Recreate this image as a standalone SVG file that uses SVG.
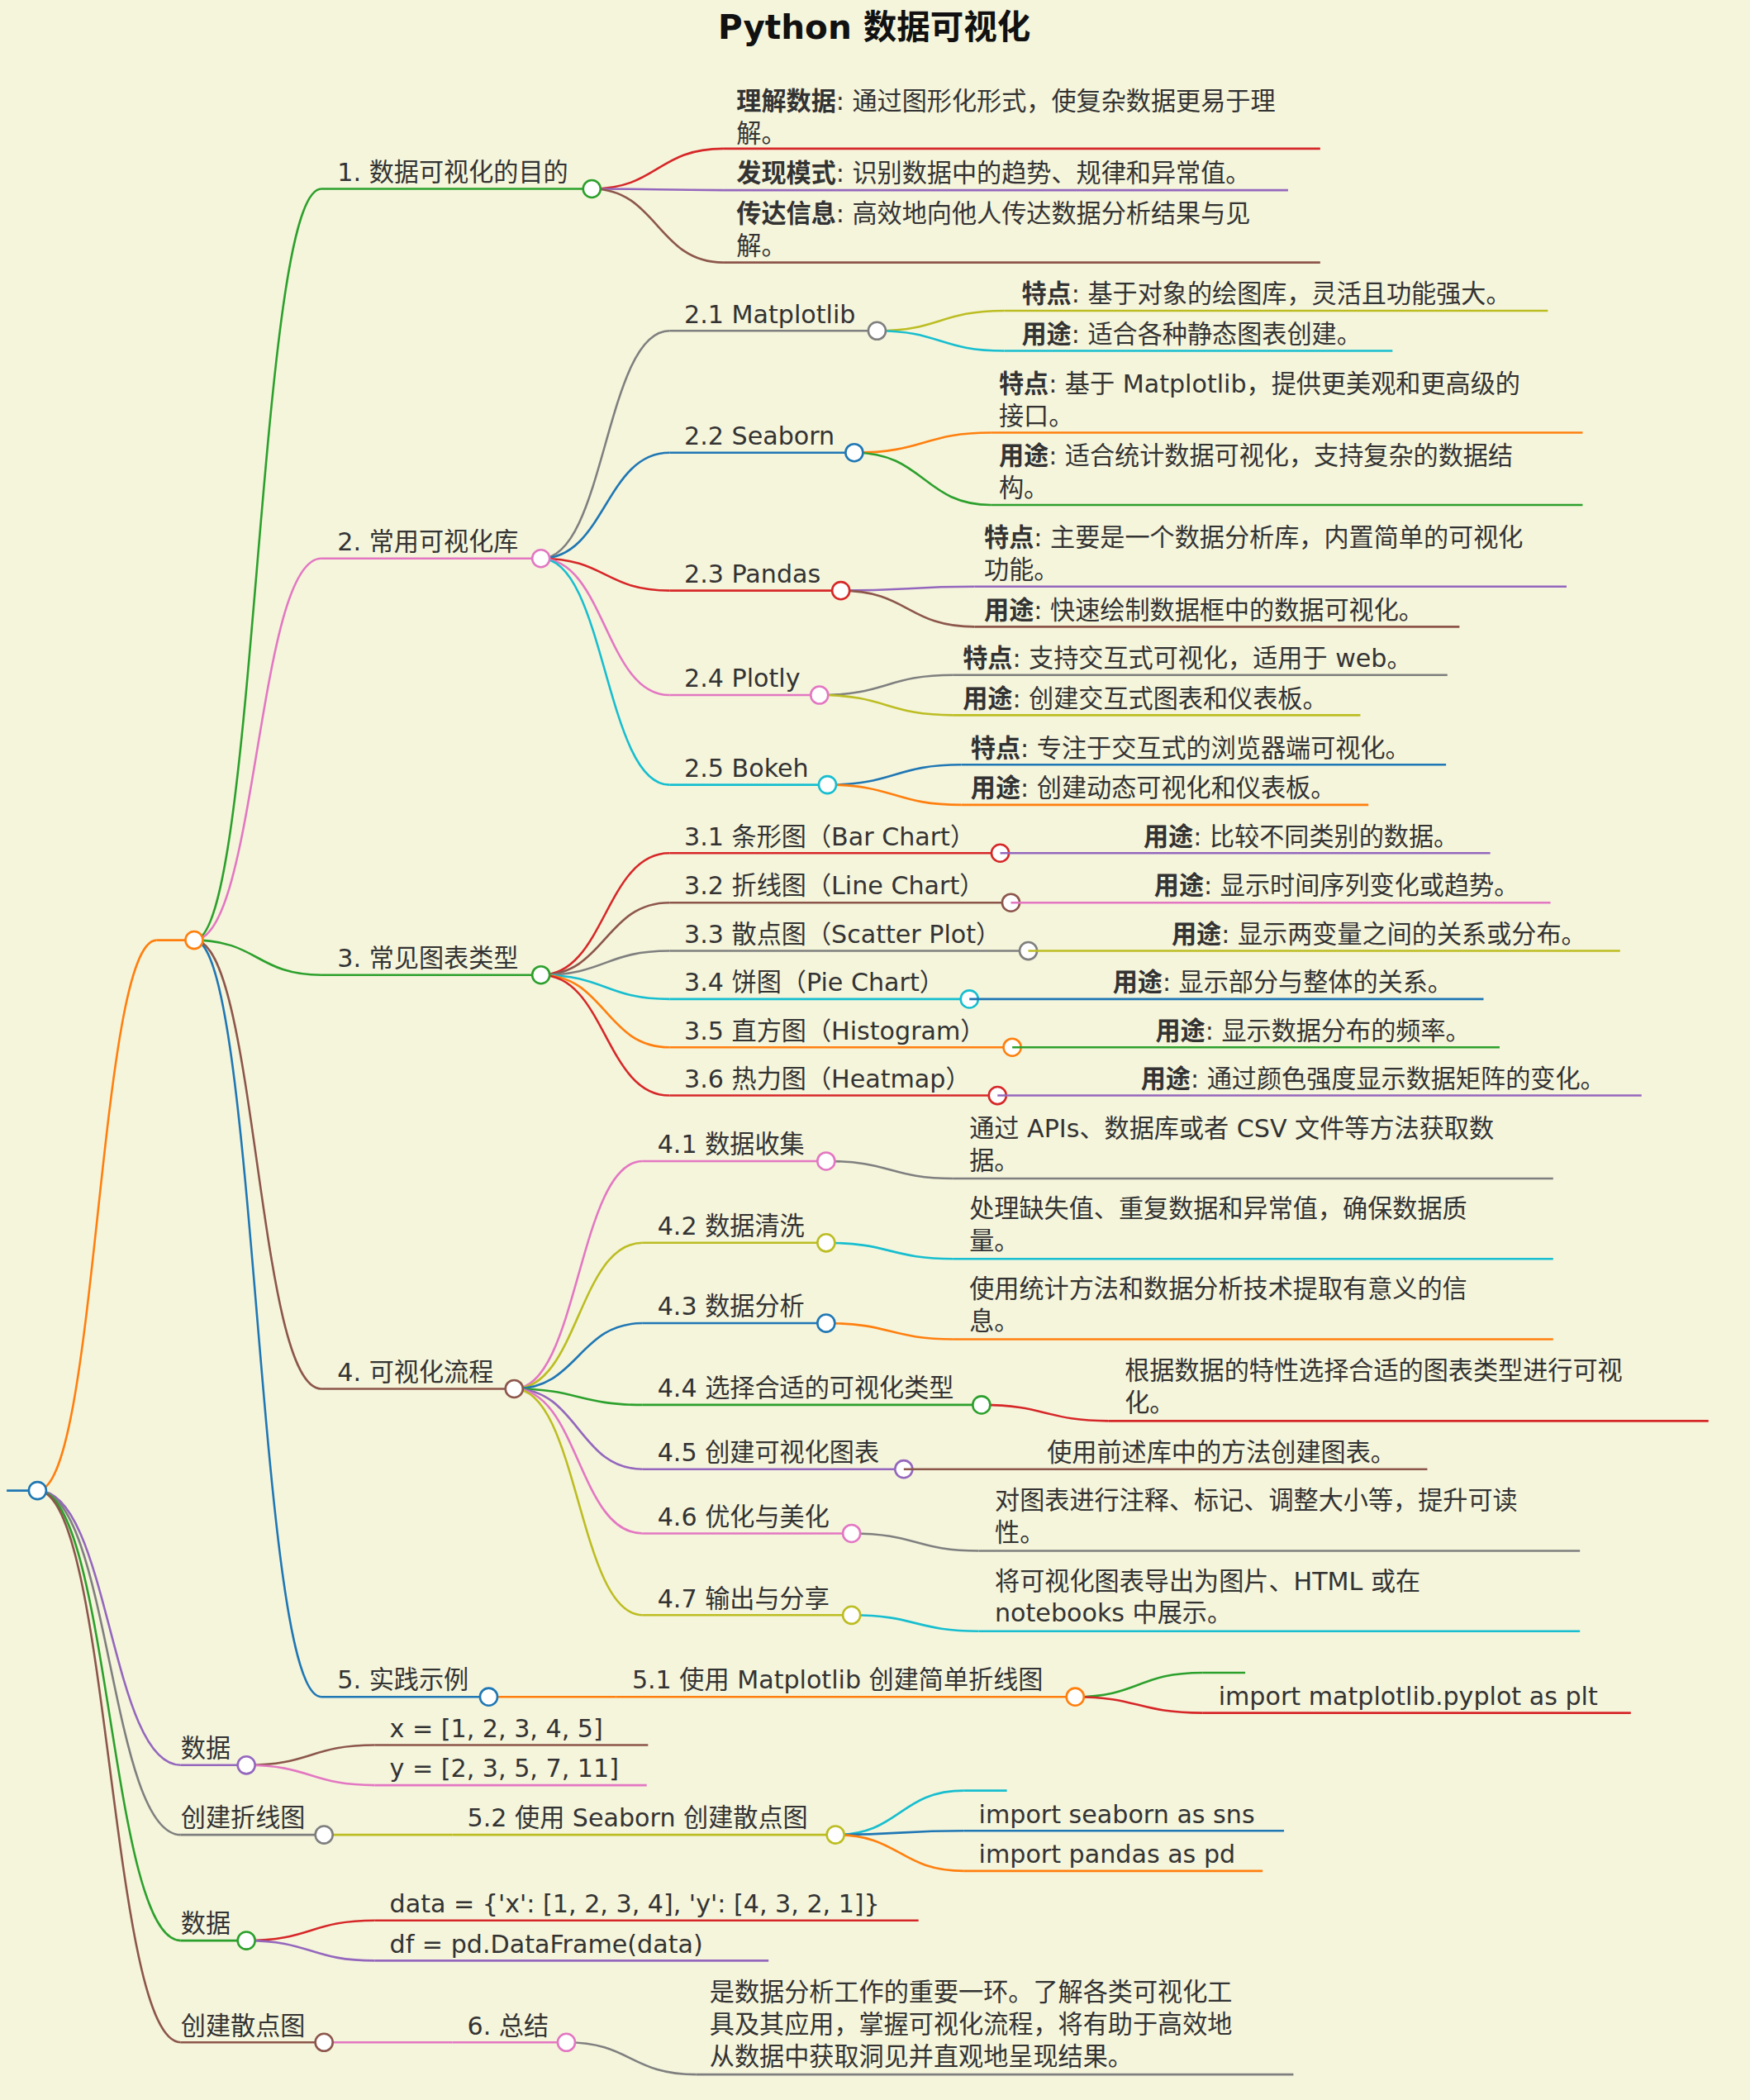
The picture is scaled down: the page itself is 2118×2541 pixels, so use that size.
<svg xmlns="http://www.w3.org/2000/svg" width="2118" height="2541" viewBox="0 0 2118 2541">
<style>
text{font-family:"DejaVu Sans","Noto Sans CJK SC",sans-serif;font-size:18.6px;fill:#333}
.t{font-size:25px;font-weight:bold;fill:#111}
.b{font-weight:bold}
.c path{fill:none;stroke-width:1.6}
.u{fill:none;stroke-width:1.6}
circle{fill:#fff;stroke-width:1.6}
</style>
<rect width="2118" height="2541" fill="#f5f5dc"/>
<g transform="scale(1.6205)">
<text class="t" x="653" y="29" text-anchor="middle">Python 数据可视化</text>
<g class="c" id="connectors">
<path stroke="#ff7f0e" d="M28,1113 C73,1113 73,702 117,702"/>
<path stroke="#9467bd" d="M28,1113 C82,1113 82,1318 135,1318"/>
<path stroke="#7f7f7f" d="M28,1113 C82,1113 82,1370 135,1370"/>
<path stroke="#2ca02c" d="M28,1113 C82,1113 82,1449 135,1449"/>
<path stroke="#8c564b" d="M28,1113 C82,1113 82,1525 135,1525"/>
<path stroke="#2ca02c" d="M145,702 C192,702 192,141 240,141"/>
<path stroke="#e377c2" d="M145,702 C192,702 192,417 240,417"/>
<path stroke="#2ca02c" d="M145,702 C192,702 192,728 240,728"/>
<path stroke="#8c564b" d="M145,702 C192,702 192,1037 240,1037"/>
<path stroke="#1f77b4" d="M145,702 C192,702 192,1267 240,1267"/>
<path stroke="#d62728" d="M442,141 C491,141 491,111 540,111"/>
<path stroke="#9467bd" d="M442,141 C491,141 491,142 540,142"/>
<path stroke="#8c564b" d="M442,141 C491,141 491,196 540,196"/>
<path stroke="#7f7f7f" d="M404,417 C452,417 452,247 500,247"/>
<path stroke="#1f77b4" d="M404,417 C452,417 452,338 500,338"/>
<path stroke="#d62728" d="M404,417 C452,417 452,441 500,441"/>
<path stroke="#e377c2" d="M404,417 C452,417 452,519 500,519"/>
<path stroke="#17becf" d="M404,417 C452,417 452,586 500,586"/>
<path stroke="#bcbd22" d="M655,247 C702,247 702,232 750,232"/>
<path stroke="#17becf" d="M655,247 C702,247 702,262 750,262"/>
<path stroke="#ff7f0e" d="M638,338 C690,338 690,323 740,323"/>
<path stroke="#2ca02c" d="M638,338 C690,338 690,377 740,377"/>
<path stroke="#9467bd" d="M628,441 C678,441 678,438 728,438"/>
<path stroke="#8c564b" d="M628,441 C678,441 678,468 728,468"/>
<path stroke="#7f7f7f" d="M612,519 C662,519 662,504 712,504"/>
<path stroke="#bcbd22" d="M612,519 C662,519 662,534 712,534"/>
<path stroke="#1f77b4" d="M618,586 C668,586 668,571 718,571"/>
<path stroke="#ff7f0e" d="M618,586 C668,586 668,601 718,601"/>
<path stroke="#d62728" d="M404,728 C452,728 452,637 500,637"/>
<path stroke="#8c564b" d="M404,728 C452,728 452,674 500,674"/>
<path stroke="#7f7f7f" d="M404,728 C452,728 452,710 500,710"/>
<path stroke="#17becf" d="M404,728 C452,728 452,746 500,746"/>
<path stroke="#ff7f0e" d="M404,728 C452,728 452,782 500,782"/>
<path stroke="#d62728" d="M404,728 C452,728 452,818 500,818"/>
<path stroke="#e377c2" d="M384,1037 C432,1037 432,867 480,867"/>
<path stroke="#bcbd22" d="M384,1037 C432,1037 432,928 480,928"/>
<path stroke="#1f77b4" d="M384,1037 C432,1037 432,988 480,988"/>
<path stroke="#2ca02c" d="M384,1037 C432,1037 432,1049 480,1049"/>
<path stroke="#9467bd" d="M384,1037 C432,1037 432,1097 480,1097"/>
<path stroke="#e377c2" d="M384,1037 C432,1037 432,1145 480,1145"/>
<path stroke="#bcbd22" d="M384,1037 C432,1037 432,1206 480,1206"/>
<path stroke="#7f7f7f" d="M617,867 C665,867 665,880 712,880"/>
<path stroke="#17becf" d="M617,928 C665,928 665,940 712,940"/>
<path stroke="#ff7f0e" d="M617,988 C665,988 665,1000 712,1000"/>
<path stroke="#d62728" d="M733,1049 C781,1049 781,1061 828,1061"/>
<path stroke="#7f7f7f" d="M636,1145 C684,1145 684,1158 731,1158"/>
<path stroke="#17becf" d="M636,1206 C684,1206 684,1218 731,1218"/>
<path stroke="#ff7f0e" d="M365,1267 C412,1267 412,1267 460,1267"/>
<path stroke="#2ca02c" d="M803,1267 C850,1267 850,1249 898,1249"/>
<path stroke="#d62728" d="M803,1267 C850,1267 850,1279 898,1279"/>
<path stroke="#8c564b" d="M184,1318 C232,1318 232,1303 280,1303"/>
<path stroke="#e377c2" d="M184,1318 C232,1318 232,1333 280,1333"/>
<path stroke="#bcbd22" d="M242,1370 C290,1370 290,1370 338,1370"/>
<path stroke="#17becf" d="M624,1370 C672,1370 672,1337 720,1337"/>
<path stroke="#1f77b4" d="M624,1370 C672,1370 672,1367 720,1367"/>
<path stroke="#ff7f0e" d="M624,1370 C672,1370 672,1397 720,1397"/>
<path stroke="#d62728" d="M184,1449 C232,1449 232,1434 280,1434"/>
<path stroke="#9467bd" d="M184,1449 C232,1449 232,1464 280,1464"/>
<path stroke="#e377c2" d="M242,1525 C290,1525 290,1525 338,1525"/>
<path stroke="#7f7f7f" d="M423,1525 C471,1525 471,1549 520,1549"/>
</g>
<g id="root"><path class="u" stroke="#1f77b4" d="M5,1113H28"/><circle cx="28" cy="1113" r="6.5" stroke="#1f77b4"/></g>
<g id="n0"><path class="u" stroke="#ff7f0e" d="M117,702H145"/><circle cx="145" cy="702" r="6.5" stroke="#ff7f0e"/></g>
<g id="n1"><path class="u" stroke="#2ca02c" d="M240,141H442"/><text x="252" y="135">1. 数据可视化的目的</text><circle cx="442" cy="141" r="6.5" stroke="#2ca02c"/></g>
<g id="n1a"><path class="u" stroke="#d62728" d="M540,111H986"/><text x="550" y="82"><tspan class="b">理解数据</tspan>: 通过图形化形式，使复杂数据更易于理</text><text x="550" y="106">解。</text></g>
<g id="n1b"><path class="u" stroke="#9467bd" d="M540,142H962"/><text x="550" y="136"><tspan class="b">发现模式</tspan>: 识别数据中的趋势、规律和异常值。</text></g>
<g id="n1c"><path class="u" stroke="#8c564b" d="M540,196H986"/><text x="550" y="166"><tspan class="b">传达信息</tspan>: 高效地向他人传达数据分析结果与见</text><text x="550" y="190">解。</text></g>
<g id="n2"><path class="u" stroke="#e377c2" d="M240,417H404"/><text x="252" y="411">2. 常用可视化库</text><circle cx="404" cy="417" r="6.5" stroke="#e377c2"/></g>
<g id="n21"><path class="u" stroke="#7f7f7f" d="M500,247H655"/><text x="511" y="241">2.1 Matplotlib</text><circle cx="655" cy="247" r="6.5" stroke="#7f7f7f"/></g>
<g id="n21a"><path class="u" stroke="#bcbd22" d="M750,232H1156"/><text x="763" y="226"><tspan class="b">特点</tspan>: 基于对象的绘图库，灵活且功能强大。</text></g>
<g id="n21b"><path class="u" stroke="#17becf" d="M750,262H1040"/><text x="763" y="256"><tspan class="b">用途</tspan>: 适合各种静态图表创建。</text></g>
<g id="n22"><path class="u" stroke="#1f77b4" d="M500,338H638"/><text x="511" y="332">2.2 Seaborn</text><circle cx="638" cy="338" r="6.5" stroke="#1f77b4"/></g>
<g id="n22a"><path class="u" stroke="#ff7f0e" d="M740,323H1182"/><text x="746" y="293"><tspan class="b">特点</tspan>: 基于 Matplotlib，提供更美观和更高级的</text><text x="746" y="317">接口。</text></g>
<g id="n22b"><path class="u" stroke="#2ca02c" d="M740,377H1182"/><text x="746" y="347"><tspan class="b">用途</tspan>: 适合统计数据可视化，支持复杂的数据结</text><text x="746" y="371">构。</text></g>
<g id="n23"><path class="u" stroke="#d62728" d="M500,441H628"/><text x="511" y="435">2.3 Pandas</text><circle cx="628" cy="441" r="6.5" stroke="#d62728"/></g>
<g id="n23a"><path class="u" stroke="#9467bd" d="M728,438H1170"/><text x="735" y="408"><tspan class="b">特点</tspan>: 主要是一个数据分析库，内置简单的可视化</text><text x="735" y="432">功能。</text></g>
<g id="n23b"><path class="u" stroke="#8c564b" d="M728,468H1090"/><text x="735" y="462"><tspan class="b">用途</tspan>: 快速绘制数据框中的数据可视化。</text></g>
<g id="n24"><path class="u" stroke="#e377c2" d="M500,519H612"/><text x="511" y="513">2.4 Plotly</text><circle cx="612" cy="519" r="6.5" stroke="#e377c2"/></g>
<g id="n24a"><path class="u" stroke="#7f7f7f" d="M712,504H1081"/><text x="719" y="498"><tspan class="b">特点</tspan>: 支持交互式可视化，适用于 web。</text></g>
<g id="n24b"><path class="u" stroke="#bcbd22" d="M712,534H1016"/><text x="719" y="528"><tspan class="b">用途</tspan>: 创建交互式图表和仪表板。</text></g>
<g id="n25"><path class="u" stroke="#17becf" d="M500,586H618"/><text x="511" y="580">2.5 Bokeh</text><circle cx="618" cy="586" r="6.5" stroke="#17becf"/></g>
<g id="n25a"><path class="u" stroke="#1f77b4" d="M718,571H1080"/><text x="725" y="565"><tspan class="b">特点</tspan>: 专注于交互式的浏览器端可视化。</text></g>
<g id="n25b"><path class="u" stroke="#ff7f0e" d="M718,601H1022"/><text x="725" y="595"><tspan class="b">用途</tspan>: 创建动态可视化和仪表板。</text></g>
<g id="n3"><path class="u" stroke="#2ca02c" d="M240,728H404"/><text x="252" y="722">3. 常见图表类型</text><circle cx="404" cy="728" r="6.5" stroke="#2ca02c"/></g>
<g id="n31"><path class="u" stroke="#d62728" d="M500,637H747"/><text x="511" y="631">3.1 条形图（Bar Chart）</text><circle cx="747" cy="637" r="6.5" stroke="#d62728"/></g>
<g id="n31a"><path class="u" stroke="#9467bd" d="M747,637H1113"/><text x="854" y="631"><tspan class="b">用途</tspan>: 比较不同类别的数据。</text></g>
<g id="n32"><path class="u" stroke="#8c564b" d="M500,674H755"/><text x="511" y="668">3.2 折线图（Line Chart）</text><circle cx="755" cy="674" r="6.5" stroke="#8c564b"/></g>
<g id="n32a"><path class="u" stroke="#e377c2" d="M755,674H1158"/><text x="862" y="668"><tspan class="b">用途</tspan>: 显示时间序列变化或趋势。</text></g>
<g id="n33"><path class="u" stroke="#7f7f7f" d="M500,710H768"/><text x="511" y="704">3.3 散点图（Scatter Plot）</text><circle cx="768" cy="710" r="6.5" stroke="#7f7f7f"/></g>
<g id="n33a"><path class="u" stroke="#bcbd22" d="M768,710H1210"/><text x="875" y="704"><tspan class="b">用途</tspan>: 显示两变量之间的关系或分布。</text></g>
<g id="n34"><path class="u" stroke="#17becf" d="M500,746H724"/><text x="511" y="740">3.4 饼图（Pie Chart）</text><circle cx="724" cy="746" r="6.5" stroke="#17becf"/></g>
<g id="n34a"><path class="u" stroke="#1f77b4" d="M724,746H1108"/><text x="831" y="740"><tspan class="b">用途</tspan>: 显示部分与整体的关系。</text></g>
<g id="n35"><path class="u" stroke="#ff7f0e" d="M500,782H756"/><text x="511" y="776">3.5 直方图（Histogram）</text><circle cx="756" cy="782" r="6.5" stroke="#ff7f0e"/></g>
<g id="n35a"><path class="u" stroke="#2ca02c" d="M756,782H1120"/><text x="863" y="776"><tspan class="b">用途</tspan>: 显示数据分布的频率。</text></g>
<g id="n36"><path class="u" stroke="#d62728" d="M500,818H745"/><text x="511" y="812">3.6 热力图（Heatmap）</text><circle cx="745" cy="818" r="6.5" stroke="#d62728"/></g>
<g id="n36a"><path class="u" stroke="#9467bd" d="M745,818H1226"/><text x="852" y="812"><tspan class="b">用途</tspan>: 通过颜色强度显示数据矩阵的变化。</text></g>
<g id="n4"><path class="u" stroke="#8c564b" d="M240,1037H384"/><text x="252" y="1031">4. 可视化流程</text><circle cx="384" cy="1037" r="6.5" stroke="#8c564b"/></g>
<g id="n41"><path class="u" stroke="#e377c2" d="M480,867H617"/><text x="491" y="861">4.1 数据收集</text><circle cx="617" cy="867" r="6.5" stroke="#e377c2"/></g>
<g id="n41a"><path class="u" stroke="#7f7f7f" d="M712,880H1160"/><text x="724" y="849">通过 APIs、数据库或者 CSV 文件等方法获取数</text><text x="724" y="873">据。</text></g>
<g id="n42"><path class="u" stroke="#bcbd22" d="M480,928H617"/><text x="491" y="922">4.2 数据清洗</text><circle cx="617" cy="928" r="6.5" stroke="#bcbd22"/></g>
<g id="n42a"><path class="u" stroke="#17becf" d="M712,940H1160"/><text x="724" y="909">处理缺失值、重复数据和异常值，确保数据质</text><text x="724" y="933">量。</text></g>
<g id="n43"><path class="u" stroke="#1f77b4" d="M480,988H617"/><text x="491" y="982">4.3 数据分析</text><circle cx="617" cy="988" r="6.5" stroke="#1f77b4"/></g>
<g id="n43a"><path class="u" stroke="#ff7f0e" d="M712,1000H1160"/><text x="724" y="969">使用统计方法和数据分析技术提取有意义的信</text><text x="724" y="993">息。</text></g>
<g id="n44"><path class="u" stroke="#2ca02c" d="M480,1049H733"/><text x="491" y="1043">4.4 选择合适的可视化类型</text><circle cx="733" cy="1049" r="6.5" stroke="#2ca02c"/></g>
<g id="n44a"><path class="u" stroke="#d62728" d="M828,1061H1276"/><text x="840" y="1030">根据数据的特性选择合适的图表类型进行可视</text><text x="840" y="1054">化。</text></g>
<g id="n45"><path class="u" stroke="#9467bd" d="M480,1097H675"/><text x="491" y="1091">4.5 创建可视化图表</text><circle cx="675" cy="1097" r="6.5" stroke="#9467bd"/></g>
<g id="n45a"><path class="u" stroke="#8c564b" d="M675,1097H1066"/><text x="782" y="1091">使用前述库中的方法创建图表。</text></g>
<g id="n46"><path class="u" stroke="#e377c2" d="M480,1145H636"/><text x="491" y="1139">4.6 优化与美化</text><circle cx="636" cy="1145" r="6.5" stroke="#e377c2"/></g>
<g id="n46a"><path class="u" stroke="#7f7f7f" d="M731,1158H1180"/><text x="743" y="1127">对图表进行注释、标记、调整大小等，提升可读</text><text x="743" y="1151">性。</text></g>
<g id="n47"><path class="u" stroke="#bcbd22" d="M480,1206H636"/><text x="491" y="1200">4.7 输出与分享</text><circle cx="636" cy="1206" r="6.5" stroke="#bcbd22"/></g>
<g id="n47a"><path class="u" stroke="#17becf" d="M731,1218H1180"/><text x="743" y="1187">将可视化图表导出为图片、HTML 或在</text><text x="743" y="1211">notebooks 中展示。</text></g>
<g id="n5"><path class="u" stroke="#1f77b4" d="M240,1267H365"/><text x="252" y="1261">5. 实践示例</text><circle cx="365" cy="1267" r="6.5" stroke="#1f77b4"/></g>
<g id="n51"><path class="u" stroke="#ff7f0e" d="M460,1267H803"/><text x="472" y="1261">5.1 使用 Matplotlib 创建简单折线图</text><circle cx="803" cy="1267" r="6.5" stroke="#ff7f0e"/></g>
<g id="n51a"><path class="u" stroke="#2ca02c" d="M898,1249H930"/></g>
<g id="n51b"><path class="u" stroke="#d62728" d="M898,1279H1218"/><text x="910" y="1273">import matplotlib.pyplot as plt</text></g>
<g id="d1"><path class="u" stroke="#9467bd" d="M135,1318H184"/><text x="135" y="1312">数据</text><circle cx="184" cy="1318" r="6.5" stroke="#9467bd"/></g>
<g id="d1a"><path class="u" stroke="#8c564b" d="M280,1303H484"/><text x="291" y="1297">x = [1, 2, 3, 4, 5]</text></g>
<g id="d1b"><path class="u" stroke="#e377c2" d="M280,1333H483"/><text x="291" y="1327">y = [2, 3, 5, 7, 11]</text></g>
<g id="l1"><path class="u" stroke="#7f7f7f" d="M135,1370H242"/><text x="135" y="1364">创建折线图</text><circle cx="242" cy="1370" r="6.5" stroke="#7f7f7f"/></g>
<g id="n52"><path class="u" stroke="#bcbd22" d="M338,1370H624"/><text x="349" y="1364">5.2 使用 Seaborn 创建散点图</text><circle cx="624" cy="1370" r="6.5" stroke="#bcbd22"/></g>
<g id="n52a"><path class="u" stroke="#17becf" d="M720,1337H752"/></g>
<g id="n52b"><path class="u" stroke="#1f77b4" d="M720,1367H959"/><text x="731" y="1361">import seaborn as sns</text></g>
<g id="n52c"><path class="u" stroke="#ff7f0e" d="M720,1397H943"/><text x="731" y="1391">import pandas as pd</text></g>
<g id="d2"><path class="u" stroke="#2ca02c" d="M135,1449H184"/><text x="135" y="1443">数据</text><circle cx="184" cy="1449" r="6.5" stroke="#2ca02c"/></g>
<g id="d2a"><path class="u" stroke="#d62728" d="M280,1434H686"/><text x="291" y="1428">data = {'x': [1, 2, 3, 4], 'y': [4, 3, 2, 1]}</text></g>
<g id="d2b"><path class="u" stroke="#9467bd" d="M280,1464H574"/><text x="291" y="1458">df = pd.DataFrame(data)</text></g>
<g id="s1"><path class="u" stroke="#8c564b" d="M135,1525H242"/><text x="135" y="1519">创建散点图</text><circle cx="242" cy="1525" r="6.5" stroke="#8c564b"/></g>
<g id="n6"><path class="u" stroke="#e377c2" d="M338,1525H423"/><text x="349" y="1519">6. 总结</text><circle cx="423" cy="1525" r="6.5" stroke="#e377c2"/></g>
<g id="n6a"><path class="u" stroke="#7f7f7f" d="M520,1549H966"/><text x="530" y="1494">是数据分析工作的重要一环。了解各类可视化工</text><text x="530" y="1518">具及其应用，掌握可视化流程，将有助于高效地</text><text x="530" y="1542">从数据中获取洞见并直观地呈现结果。</text></g>
</g>
</svg>
